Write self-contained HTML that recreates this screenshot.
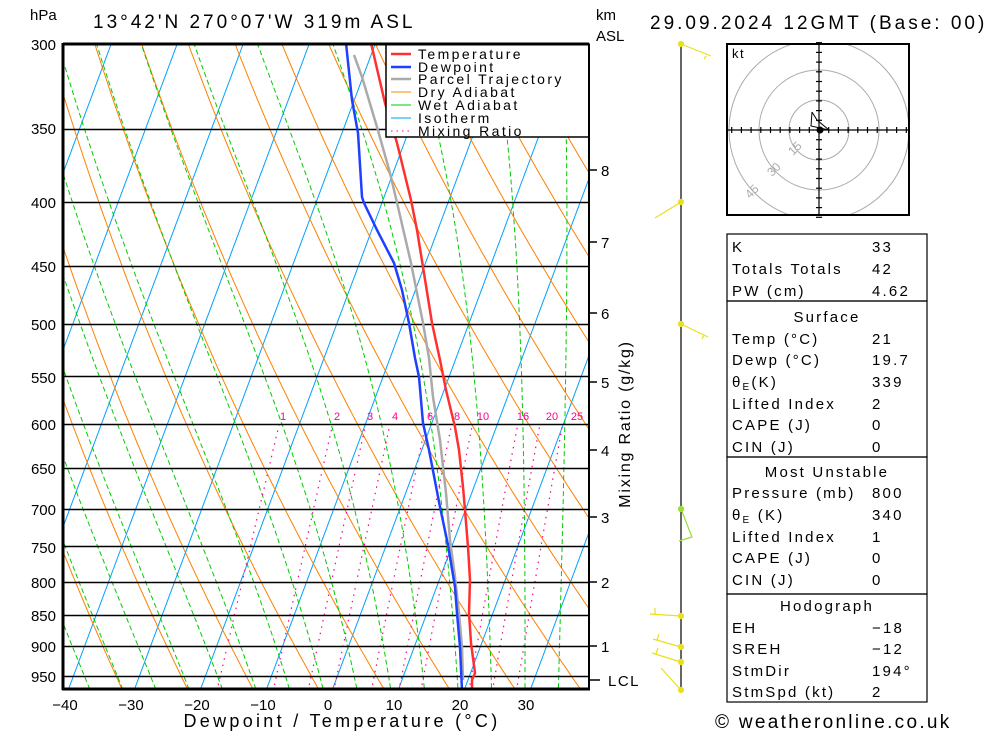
<!DOCTYPE html>
<html><head><meta charset="utf-8"><style>
html,body{margin:0;padding:0;background:#fff;}
svg{display:block;font-family:"Liberation Sans",sans-serif;}
</style></head><body>
<svg id="s" width="1000" height="733" viewBox="0 0 1000 733" xmlns="http://www.w3.org/2000/svg">
<defs><clipPath id="cp"><rect x="63" y="44" width="526" height="645"/></clipPath></defs>
<rect width="1000" height="733" fill="#fff"/>
<g id="bg" clip-path="url(#cp)"></g>
<g id="iso" stroke="#000" stroke-width="1.5"></g>
<g id="prof" clip-path="url(#cp)" fill="none" stroke-linejoin="round"></g>
<!-- legend -->
<g>
<rect x="386" y="44" width="203" height="93" fill="#fff" stroke="#000" stroke-width="1.5"/>
<g stroke-width="2">
<line x1="391" y1="54" x2="411" y2="54" stroke="#ff3030" stroke-width="2.5"/>
<line x1="391" y1="67" x2="411" y2="67" stroke="#2040ff" stroke-width="2.5"/>
<line x1="391" y1="79" x2="411" y2="79" stroke="#aaaaaa" stroke-width="2.5"/>
<line x1="391" y1="92" x2="411" y2="92" stroke="#ff8000" stroke-width="1"/>
<line x1="391" y1="105" x2="411" y2="105" stroke="#00cc00" stroke-width="1"/>
<line x1="391" y1="118" x2="411" y2="118" stroke="#00a0ff" stroke-width="1"/>
<line x1="391" y1="131" x2="411" y2="131" stroke="#ff0090" stroke-width="1" stroke-dasharray="1.5,4"/>
</g>
<g font-size="14" fill="#000" letter-spacing="2.4">
<text x="418" y="59">Temperature</text>
<text x="418" y="72">Dewpoint</text>
<text x="418" y="84">Parcel Trajectory</text>
<text x="418" y="97">Dry Adiabat</text>
<text x="418" y="110">Wet Adiabat</text>
<text x="418" y="123">Isotherm</text>
<text x="418" y="136">Mixing Ratio</text>
</g>
</g>
<!-- frame -->
<line x1="63" y1="44" x2="589" y2="44" stroke="#000" stroke-width="3"/>
<line x1="63" y1="43" x2="63" y2="690" stroke="#000" stroke-width="3"/>
<line x1="62" y1="689" x2="590" y2="689" stroke="#000" stroke-width="3"/>
<line x1="589" y1="44" x2="589" y2="689" stroke="#000" stroke-width="2"/>
<!-- pressure labels -->
<g font-size="15" text-anchor="end" fill="#000">
<text x="56" y="50">300</text><text x="56" y="134">350</text><text x="56" y="208">400</text>
<text x="56" y="272">450</text><text x="56" y="330">500</text><text x="56" y="383">550</text>
<text x="56" y="430">600</text><text x="56" y="474">650</text><text x="56" y="515">700</text>
<text x="56" y="553">750</text><text x="56" y="588">800</text><text x="56" y="621">850</text>
<text x="56" y="652">900</text><text x="56" y="682">950</text>
</g>
<text x="30" y="20" font-size="15">hPa</text>
<text x="93" y="28" font-size="19" letter-spacing="3">13°42'N  270°07'W  319m  ASL</text>
<text x="650" y="29" font-size="19" letter-spacing="3">29.09.2024  12GMT  (Base: 00)</text>
<text x="596" y="20" font-size="15">km</text>
<text x="596" y="41" font-size="15">ASL</text>
<!-- temp labels -->
<g font-size="15" text-anchor="middle">
<text x="65" y="710">−40</text><text x="131" y="710">−30</text><text x="197" y="710">−20</text>
<text x="263" y="710">−10</text><text x="328" y="710">0</text><text x="394" y="710">10</text>
<text x="460" y="710">20</text><text x="526" y="710">30</text>
</g>
<text x="342" y="727" font-size="18" text-anchor="middle" letter-spacing="3.3">Dewpoint / Temperature (°C)</text>
<!-- km axis -->
<g stroke="#000" stroke-width="1.5">
<line x1="589" y1="170" x2="597" y2="170"/><line x1="589" y1="242" x2="597" y2="242"/>
<line x1="589" y1="313" x2="597" y2="313"/><line x1="589" y1="382" x2="597" y2="382"/>
<line x1="589" y1="450" x2="597" y2="450"/><line x1="589" y1="517" x2="597" y2="517"/>
<line x1="589" y1="582" x2="597" y2="582"/><line x1="589" y1="646" x2="597" y2="646"/>
<line x1="589" y1="680" x2="600" y2="680"/>
</g>
<g font-size="15">
<text x="601" y="176">8</text><text x="601" y="248">7</text><text x="601" y="319">6</text>
<text x="601" y="388">5</text><text x="601" y="456">4</text><text x="601" y="523">3</text>
<text x="601" y="588">2</text><text x="601" y="652">1</text><text x="608" y="686" letter-spacing="1.5">LCL</text>
</g>
<text transform="translate(630,424) rotate(-90)" font-size="16" text-anchor="middle" letter-spacing="1.8">Mixing Ratio (g/kg)</text>
<!-- mixing ratio labels -->
<g font-size="11" fill="#ff0090" text-anchor="middle">
<text x="283" y="420">1</text><text x="337" y="420">2</text><text x="370" y="420">3</text>
<text x="395" y="420">4</text><text x="430" y="420">6</text><text x="457" y="420">8</text>
<text x="483" y="420">10</text><text x="523" y="420">16</text><text x="552" y="420">20</text>
<text x="577" y="420">25</text>
</g>
<!-- wind column -->
<line x1="681" y1="44" x2="681" y2="689" stroke="#000" stroke-width="1.2"/>
<g stroke="#e8e020" stroke-width="1.2" fill="#e8e020">
<circle cx="681" cy="44" r="2.5"/><polyline points="681,44 711,56" fill="none"/><line x1="706" y1="56" x2="704" y2="59"/>
<circle cx="681" cy="202" r="2.5"/><polyline points="681,202 655,218" fill="none"/>
<circle cx="681" cy="324" r="2.5"/><polyline points="681,324 708,337" fill="none"/><line x1="704" y1="335" x2="702" y2="339"/>
<circle cx="681" cy="616" r="2.5"/><polyline points="681,616 650,614" fill="none"/><line x1="655" y1="614" x2="655" y2="608"/>
<circle cx="681" cy="647" r="2.5"/><polyline points="681,647 653,639" fill="none"/><line x1="657" y1="640" x2="659" y2="634"/>
<circle cx="681" cy="662" r="2.5"/><polyline points="681,662 652,653" fill="none"/><line x1="656" y1="654" x2="658" y2="648"/>
<circle cx="681" cy="690" r="2.5"/><polyline points="681,690 661,668" fill="none"/>
</g>
<g stroke="#99dd33" stroke-width="1.2" fill="#99dd33">
<circle cx="681" cy="509" r="2.5"/><polyline points="681,509 692,537 679,541" fill="none"/>
</g>
<!-- hodograph -->
<rect x="727" y="44" width="182" height="171" fill="#fff" stroke="#000" stroke-width="2"/>
<g clip-path="url(#hc)">
<clipPath id="hc"><rect x="727" y="44" width="182" height="171"/></clipPath>
<g fill="none" stroke="#aaa" stroke-width="1">
<circle cx="819" cy="130" r="30"/><circle cx="819" cy="130" r="60"/><circle cx="819" cy="130" r="90"/>
</g>
</g>
<rect x="727" y="44" width="182" height="171" fill="none" stroke="#000" stroke-width="2"/>
<g stroke="#000" stroke-width="1.2" id="hax">
<line x1="727" y1="130" x2="909" y2="130"/><line x1="819" y1="44" x2="819" y2="215"/>
</g>
<text x="732" y="58" font-size="13" letter-spacing="1.5">kt</text>
<g font-size="12" fill="#aaa">
<text transform="translate(793,156) rotate(-45)">15</text>
<text transform="translate(772,177) rotate(-45)">30</text>
<text transform="translate(750,199) rotate(-45)">45</text>
</g>
<polyline points="812,112 811,126 829,130 817,120 812,112" fill="none" stroke="#000" stroke-width="1"/>
<circle cx="820" cy="130" r="3.5" fill="#000"/>
<!-- table -->
<g fill="none" stroke="#000" stroke-width="1.2">
<rect x="727" y="234" width="200" height="67"/>
<rect x="727" y="301" width="200" height="156"/>
<rect x="727" y="457" width="200" height="137"/>
<rect x="727" y="594" width="200" height="108"/>
</g>
<g font-size="15" fill="#000" letter-spacing="2.2">
<text x="732" y="252">K</text><text x="872" y="252">33</text>
<text x="732" y="274">Totals Totals</text><text x="872" y="274">42</text>
<text x="732" y="296">PW (cm)</text><text x="872" y="296">4.62</text>
<text x="827" y="322" text-anchor="middle">Surface</text>
<text x="732" y="344">Temp (°C)</text><text x="872" y="344">21</text>
<text x="732" y="365">Dewp (°C)</text><text x="872" y="365">19.7</text>
<text x="732" y="387">θ<tspan font-size="10" dy="3">E</tspan><tspan dy="-3">(K)</tspan></text><text x="872" y="387">339</text>
<text x="732" y="409">Lifted Index</text><text x="872" y="409">2</text>
<text x="732" y="430">CAPE (J)</text><text x="872" y="430">0</text>
<text x="732" y="452">CIN (J)</text><text x="872" y="452">0</text>
<text x="827" y="477" text-anchor="middle">Most Unstable</text>
<text x="732" y="498">Pressure (mb)</text><text x="872" y="498">800</text>
<text x="732" y="520">θ<tspan font-size="10" dy="3">E</tspan><tspan dy="-3"> (K)</tspan></text><text x="872" y="520">340</text>
<text x="732" y="542">Lifted Index</text><text x="872" y="542">1</text>
<text x="732" y="563">CAPE (J)</text><text x="872" y="563">0</text>
<text x="732" y="585">CIN (J)</text><text x="872" y="585">0</text>
<text x="827" y="611" text-anchor="middle">Hodograph</text>
<text x="732" y="633">EH</text><text x="872" y="633">−18</text>
<text x="732" y="654">SREH</text><text x="872" y="654">−12</text>
<text x="732" y="676">StmDir</text><text x="872" y="676">194°</text>
<text x="732" y="697">StmSpd (kt)</text><text x="872" y="697">2</text>
</g>
<text x="715" y="728" font-size="19" letter-spacing="2.3">© weatheronline.co.uk</text>
</svg>
<script>
(function(){
var NS="http://www.w3.org/2000/svg";
function Y(p){return 44+548.3*Math.log(p/300);}
function X(T,y){return 332.6+6.6*T+0.373*(689-y);}
function pl(g,pts,attrs){var e=document.createElementNS(NS,"polyline");
 e.setAttribute("points",pts.map(function(q){return q[0].toFixed(1)+","+q[1].toFixed(1);}).join(" "));
 e.setAttribute("fill","none");for(var k in attrs)e.setAttribute(k,attrs[k]);g.appendChild(e);}
var bg=document.getElementById("bg");
for(var T=-120;T<=50;T+=10){pl(bg,[[X(T,700),700],[X(T,30),30]],{stroke:"#00a0ff","stroke-width":"1"});}
for(var th=-60;th<=200;th+=10){var pts=[];for(var p=1000;p>=280;p-=10){var Tk=(th+273.15)*Math.pow(p/1000,0.286);var y=Y(p);pts.push([X(Tk-273.15,y),y]);}
 pl(bg,pts,{stroke:"#ff8000","stroke-width":"1"});}
function es(tc){return 6.112*Math.exp(17.67*tc/(tc+243.5));}
for(var tw=-45;tw<=40;tw+=5){var Tk=tw+273.15,pts=[];
 for(var p=1000;p>=280;p-=2){var tc=Tk-273.15;var e=es(tc);var rs=0.622*e/(p-e);
  if(p%10==0){var y=Y(p);pts.push([X(tc,y),y]);}
  var d=(287*Tk+2.5e6*rs)/(p*(1005+2.5e6*2.5e6*rs*0.622/(287*Tk*Tk)));Tk-=d*2;}
 pl(bg,pts,{stroke:"#00cc00","stroke-width":"1","stroke-dasharray":"5,3"});}
[1,2,3,4,6,8,10,16,20,25].forEach(function(w){var pts=[];for(var p=1000;p>=600;p-=10){var e=w*p/(622+w);var l=Math.log(e/6.112);var tc=243.5*l/(17.67-l);var y=Y(p);pts.push([X(tc,y),y]);}
 pl(bg,pts,{stroke:"#ff0090","stroke-width":"1.2","stroke-dasharray":"1.5,5"});});
var iso=document.getElementById("iso");
for(var p=300;p<=950;p+=50){var y=Math.round(Y(p))+0.5;pl(iso,[[63,y],[589,y]],{});}
var hx=document.getElementById("hax");
for(var i=-9;i<=9;i++){if(!i)continue;var d=i*9.7;
 pl(hx,[[819+d,127],[819+d,133]],{});pl(hx,[[816,130+d],[822,130+d]],{});}
var pr=document.getElementById("prof");
pl(pr,[[371,43],[385,103],[397,143],[411,200],[417,230],[423,267],[432,323],[440,360],[446,390],[455,427],[459,450],[463,487],[465,510],[468,547],[470,580],[469,613],[471,643],[475,673],[472,680],[472,690]],{stroke:"#ff3030","stroke-width":"2.5"});
pl(pr,[[354,55],[362,77],[377,127],[390,173],[398,207],[411,263],[423,323],[429,358],[433,397],[440,440],[446,493],[450,540],[455,577],[459,613],[462,647],[463,680]],{stroke:"#aaaaaa","stroke-width":"2.5"});
pl(pr,[[346,43],[352,100],[358,133],[362,197],[364,203],[377,230],[394,263],[402,290],[409,323],[415,358],[419,377],[423,423],[429,450],[440,507],[448,545],[455,587],[457,613],[460,647],[462,690]],{stroke:"#2040ff","stroke-width":"2.5"});
})();
</script>
</body></html>
